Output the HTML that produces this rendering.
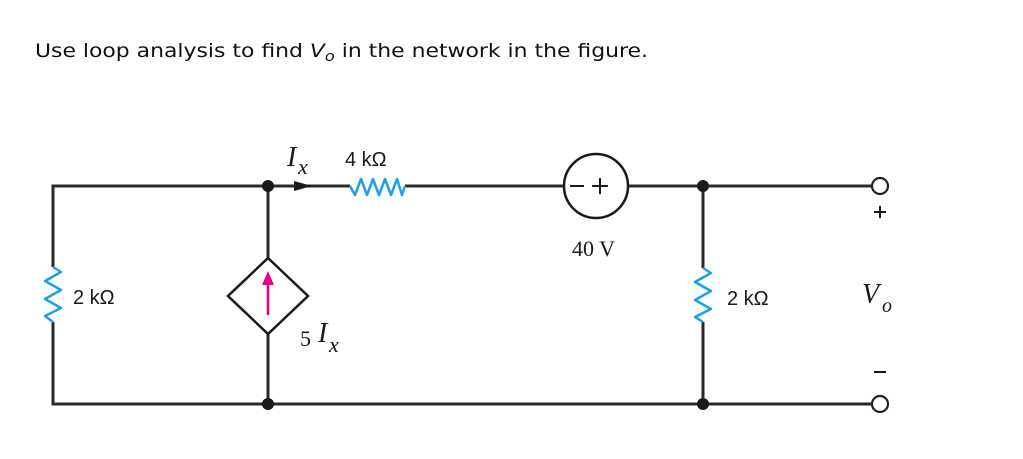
<!DOCTYPE html>
<html><head><style>html,body{margin:0;padding:0;background:#fff;}</style></head>
<body>
<svg width="1023" height="454" viewBox="0 0 1023 454" xmlns="http://www.w3.org/2000/svg">
<text x="35" y="57" font-family="DejaVu Sans, sans-serif" font-size="19" fill="#111" textLength="613" lengthAdjust="spacingAndGlyphs">Use loop analysis to find <tspan font-style="italic">V</tspan><tspan font-style="italic" font-size="14" dy="4">o</tspan><tspan dy="-4"> in the network in the figure.</tspan></text>
<g stroke="#2a2a2a" stroke-width="3" fill="none">
<path d="M53 267 V186 H350"/>
<path d="M405 186 H564"/>
<path d="M628 186 H872"/>
<path d="M53 322 V404 H872"/>
<path d="M268 186 V258"/>
<path d="M268 334 V404"/>
<path d="M703 186 V268"/>
<path d="M703 322 V404"/>
</g>
<g stroke="#1a1a1a" stroke-width="2.5" fill="none">
<path d="M268 258 L308 296 L268 334 L228 296 Z"/>
<circle cx="596" cy="186" r="32"/>
</g>
<g stroke="#222" stroke-width="2.2" fill="#fff">
<circle cx="880" cy="186" r="8"/>
<circle cx="880" cy="404" r="8"/>
</g>
<g fill="#1a1a1a">
<circle cx="268" cy="186" r="6"/>
<circle cx="268" cy="404" r="6"/>
<circle cx="703" cy="186" r="6"/>
<circle cx="703" cy="404" r="6"/>
<path d="M294 181 L312 186 L294 191 Z"/>
</g>
<g stroke="#1da0e8" stroke-width="2.5" fill="none" stroke-linejoin="round">
<path d="M53 267 L61 272 L45 281 L61 290 L45 299 L61 308 L45 316 L53 322"/>
<path d="M703 268 L711 273 L695 282 L711 291 L695 300 L711 309 L695 317 L703 322"/>
<path d="M350 186 L355 195 L361 179 L367 195 L373 179 L379 195 L385 179 L391 195 L397 179 L402 195 L405 186"/>
</g>
<path d="M268 315 V282" stroke="#e6007e" stroke-width="2.5"/>
<path d="M262 285 L268 271 L274 285 Z" fill="#e6007e"/>
<g stroke="#1a1a1a" stroke-width="2" fill="none">
<path d="M570 186 H584"/><path d="M592 186 H608 M600 178 V194"/>
<path d="M874 212 H886 M880 206 V218"/>
<path d="M874 372 H886"/>
</g>
<g font-family="Liberation Serif, serif" fill="#1a1a1a">
<text x="287" y="166" font-size="28" font-style="italic">I</text>
<text x="298" y="174" font-size="22" font-style="italic">x</text>
<text x="300" y="346" font-size="22">5</text>
<text x="318" y="342" font-size="28" font-style="italic">I</text>
<text x="329" y="352" font-size="22" font-style="italic">x</text>
<text x="572" y="256" font-size="22">40 V</text>
<text x="862" y="303" font-size="28" font-style="italic">V</text>
<text x="882" y="312" font-size="20" font-style="italic">o</text>
</g>
<g font-family="Liberation Sans, sans-serif" fill="#1a1a1a" font-size="20">
<text x="345" y="166">4 kΩ</text>
<text x="73" y="304">2 kΩ</text>
<text x="727" y="305">2 kΩ</text>
</g>
</svg>
</body></html>
